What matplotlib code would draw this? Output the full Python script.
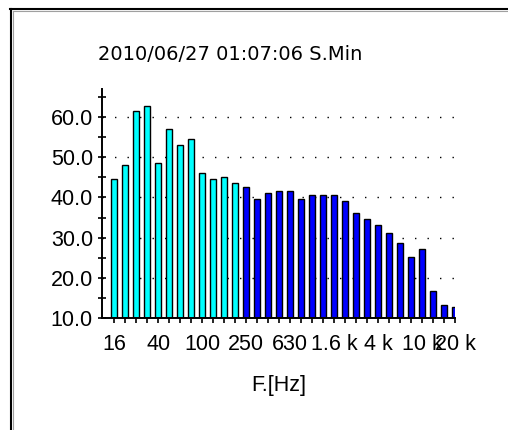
import matplotlib
matplotlib.use("Agg")
import matplotlib.pyplot as plt
from matplotlib.lines import Line2D
import numpy as np

# ---- data ----
bands = ["16", "20", "25", "31.5", "40", "50", "63", "80", "100", "125", "160", "200",
         "250", "315", "400", "500", "630", "800", "1 k", "1.25 k", "1.6 k", "2 k", "2.5 k",
         "3.15 k", "4 k", "5 k", "6.3 k", "8 k", "10 k", "12.5 k", "16 k", "20 k"]
levels = [44.6, 48.1, 61.6, 62.7, 48.6, 57.1, 53.1, 54.5, 46.1, 44.6, 45.1, 43.7,
          42.6, 39.6, 41.2, 41.7, 41.7, 39.6, 40.7, 40.7, 40.7, 39.1, 36.1,
          34.6, 33.1, 31.1, 28.7, 25.2, 27.2, 16.6, 13.2, 12.7]
n_low = 12  # first 12 bands drawn in cyan
tick_idx = [0, 4, 8, 12, 16, 20, 24, 28, 31]
tick_labels = ["16", "40", "100", "250", "630", "1.6 k", "4 k", "10 k", "20 k"]
y_major = [10, 20, 30, 40, 50, 60]
y_minor = [15, 25, 35, 45, 55, 65]
title = "2010/06/27 01:07:06 S.Min"
xlabel = "F.[Hz]"

W, H = 508, 430
fig = plt.figure(figsize=(W / 100, H / 100), dpi=100)
fig.patch.set_facecolor("white")

# axes position in pixels
L, R, B, T = 102, 455, 318, 89
ax = fig.add_axes([L / W, 1 - B / H, (R - L) / W, (B - T) / H])

x = np.arange(len(levels))
bottom = 10
colors = ["#00FFFF" if i < n_low else "#0000FF" for i in range(len(levels))]
ax.bar(x, np.array(levels) - bottom, bottom=bottom, width=0.55, color=colors,
       edgecolor="black", linewidth=1.0, zorder=3)

ax.set_xlim(-1.1, 31.0)
ax.set_ylim(10, 67)

for s in ["top", "right"]:
    ax.spines[s].set_visible(False)
for s in ["left", "bottom"]:
    ax.spines[s].set_linewidth(1.4)
    ax.spines[s].set_zorder(4)

# grid (dotted)
for g in y_major[1:]:
    ax.axhline(g, color="black", linewidth=1.0, linestyle=(0, (1, 8)), zorder=1)

ax.set_yticks(y_major)
ax.set_yticklabels([f"{v:.1f}" for v in y_major])
ax.set_yticks(y_minor, minor=True)
ax.tick_params(axis="y", which="both", direction="inout", length=6, width=1.2,
               pad=3.5, labelsize=15.5)

ax.set_xticks(x, minor=True)
ax.set_xticks(tick_idx)
ax.set_xticklabels(tick_labels)
ax.tick_params(axis="x", which="both", direction="out", length=3.6, width=1.2,
               pad=8, labelsize=15.5)

for lbl in ax.get_xticklabels() + ax.get_yticklabels():
    lbl.set_family("Liberation Sans")

ax.set_xlabel(xlabel, fontsize=15.5, family="Liberation Sans")
ax.xaxis.set_label_coords(0.5, -0.25)

fig.text(98 / W, 1 - 54 / H, title, ha="left", va="center",
         fontsize=14, family="DejaVu Sans")

# window frame
fig.add_artist(Line2D([11 / W, 11 / W], [0, 1 - 8.5 / H], transform=fig.transFigure,
                      color="black", linewidth=1.5))
fig.add_artist(Line2D([10 / W, 1], [1 - 9 / H, 1 - 9 / H], transform=fig.transFigure,
                      color="black", linewidth=1.5))
fig.add_artist(Line2D([12.8 / W, 12.8 / W], [0, 1 - 10.5 / H], transform=fig.transFigure,
                      color="#a0a0a0", linewidth=0.8))
fig.add_artist(Line2D([12.5 / W, 1], [1 - 10.8 / H, 1 - 10.8 / H], transform=fig.transFigure,
                      color="#a0a0a0", linewidth=0.8))

fig.savefig("out.png", dpi=100, facecolor="white")
